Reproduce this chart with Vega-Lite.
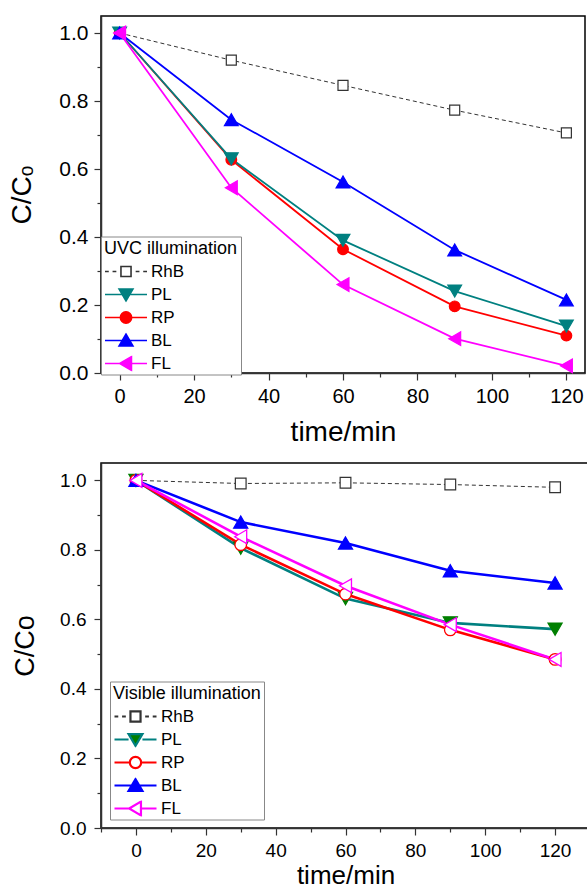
{
  "$schema": "https://vega.github.io/schema/vega-lite/v6.json",
  "padding": {"left": 8, "top": 15, "right": 0, "bottom": 0},
  "spacing": 15,
  "config": {
    "font": "Liberation Sans",
    "view": {"stroke": "black", "strokeWidth": 1.5},
    "axis": {"grid": false, "domainColor": "#333333", "domainWidth": 1.5, "tickColor": "#333333", "tickWidth": 1.2, "labelColor": "black", "titleColor": "black", "titleFontWeight": "normal", "labelFont": "Liberation Sans", "titleFont": "Liberation Sans", "labelOverlap": false, "labelFlush": false}
  },
  "datasets": {
    "uvc": [
      {"series": "RhB", "time": 0, "c": 1.0}, {"series": "RhB", "time": 30, "c": 0.92}, {"series": "RhB", "time": 60, "c": 0.846}, {"series": "RhB", "time": 90, "c": 0.773}, {"series": "RhB", "time": 120, "c": 0.706},
      {"series": "RP", "time": 0, "c": 1.0}, {"series": "RP", "time": 30, "c": 0.627}, {"series": "RP", "time": 60, "c": 0.364}, {"series": "RP", "time": 90, "c": 0.196}, {"series": "RP", "time": 120, "c": 0.11},
      {"series": "PL", "time": 0, "c": 1.0}, {"series": "PL", "time": 30, "c": 0.63}, {"series": "PL", "time": 60, "c": 0.39}, {"series": "PL", "time": 90, "c": 0.241}, {"series": "PL", "time": 120, "c": 0.138},
      {"series": "BL", "time": 0, "c": 1.0}, {"series": "BL", "time": 30, "c": 0.745}, {"series": "BL", "time": 60, "c": 0.562}, {"series": "BL", "time": 90, "c": 0.362}, {"series": "BL", "time": 120, "c": 0.215},
      {"series": "FL", "time": 0, "c": 1.0}, {"series": "FL", "time": 30, "c": 0.545}, {"series": "FL", "time": 60, "c": 0.26}, {"series": "FL", "time": 90, "c": 0.101}, {"series": "FL", "time": 120, "c": 0.021}
    ],
    "vis": [
      {"series": "RhB", "time": 0, "c": 1.0}, {"series": "RhB", "time": 30, "c": 0.991}, {"series": "RhB", "time": 60, "c": 0.993}, {"series": "RhB", "time": 90, "c": 0.988}, {"series": "RhB", "time": 120, "c": 0.98},
      {"series": "PL", "time": 0, "c": 1.0}, {"series": "PL", "time": 30, "c": 0.805}, {"series": "PL", "time": 60, "c": 0.66}, {"series": "PL", "time": 90, "c": 0.59}, {"series": "PL", "time": 120, "c": 0.572},
      {"series": "RP", "time": 0, "c": 1.0}, {"series": "RP", "time": 30, "c": 0.815}, {"series": "RP", "time": 60, "c": 0.673}, {"series": "RP", "time": 90, "c": 0.57}, {"series": "RP", "time": 120, "c": 0.485},
      {"series": "BL", "time": 0, "c": 1.0}, {"series": "BL", "time": 30, "c": 0.88}, {"series": "BL", "time": 60, "c": 0.82}, {"series": "BL", "time": 90, "c": 0.74}, {"series": "BL", "time": 120, "c": 0.705},
      {"series": "FL", "time": 0, "c": 1.0}, {"series": "FL", "time": 30, "c": 0.838}, {"series": "FL", "time": 60, "c": 0.697}, {"series": "FL", "time": 90, "c": 0.585}, {"series": "FL", "time": 120, "c": 0.485}
    ]
  },
  "resolve": {
    "scale": {"color": "independent"},
    "legend": {"color": "independent"}
  },
  "vconcat": [
    {
      "width": 484,
      "height": 357,
      "data": {"name": "uvc"},
      "encoding": {
        "x": {"field": "time", "type": "quantitative", "scale": {"domain": [-5, 125], "nice": false, "zero": false},
          "axis": {"orient": "bottom", "values": [0, 10, 20, 30, 40, 50, 60, 70, 80, 90, 100, 110, 120], "format": "d",
            "labelExpr": "datum.value % 20 === 0 ? datum.label : ''",
            "tickSize": {"condition": {"test": "datum.value % 20 === 0", "value": 7}, "value": 4},
            "labelFontSize": 20, "labelPadding": 6, "title": "time/min", "titleFontSize": 28, "titlePadding": 12}},
        "y": {"field": "c", "type": "quantitative", "scale": {"domain": [0, 1.05], "nice": false, "zero": false},
          "axis": {"orient": "left", "values": [0, 0.1, 0.2, 0.3, 0.4, 0.5, 0.6, 0.7, 0.8, 0.9, 1.0], "format": ".1f",
            "labelExpr": "round(datum.value * 10) % 2 === 0 ? datum.label : ''",
            "tickSize": {"condition": {"test": "round(datum.value * 10) % 2 === 0", "value": 7}, "value": 4},
            "labelFontSize": 21, "labelPadding": 6, "title": "C/Cₒ", "titleFontSize": 28, "titlePadding": 22}}
      },
      "layer": [
        {
          "transform": [{"filter": "datum.series === 'RhB'"}],
          "mark": {"type": "line", "color": "#333333", "strokeWidth": 1, "strokeDash": [4, 3]},
          "encoding": {}
        },
        {
          "transform": [{"filter": "datum.series !== 'RhB'"}],
          "mark": {"type": "line", "strokeWidth": 1.8},
          "encoding": {
            "color": {"field": "series", "type": "nominal",
              "scale": {"domain": ["RhB", "PL", "RP", "BL", "FL"], "range": ["#333333", "#008080", "#ff0000", "#0000ff", "#ff00ff"]},
              "legend": {
                "orient": "none", "legendX": 0, "legendY": 220.5,
                "title": "UVC illumination", "titleFontSize": 18, "titleFontWeight": "normal", "titleColor": "black", "titleFont": "Liberation Sans", "titlePadding": 6,
                "labelFontSize": 17, "labelColor": "black", "labelFont": "Liberation Sans", "labelOffset": 3,
                "padding": 3, "strokeColor": "#888888", "fillColor": "white",
                "symbolSize": 1764, "symbolStrokeWidth": 1.6, "clipHeight": 16, "rowPadding": 6,
                "encode": {
                  "symbols": {
                    "update": {
                      "shape": {"signal": "datum.value === 'RhB' ? 'M-1,0L-0.82,0M-0.64,0L-0.46,0M-0.24,-0.24L0.24,-0.24L0.24,0.24L-0.24,0.24ZM0.46,0L0.64,0M0.82,0L1,0' : datum.value === 'PL' ? 'M-1,0L1,0M-0.33,-0.26L0.33,-0.26L0,0.3Z' : datum.value === 'RP' ? 'M-1,0L1,0M-0.27,0A0.27,0.27,0,1,0,0.27,0A0.27,0.27,0,1,0,-0.27,0Z' : datum.value === 'BL' ? 'M-1,0L1,0M-0.33,0.26L0.33,0.26L0,-0.3Z' : 'M-1,0L1,0M-0.3,0L0.26,-0.33L0.26,0.33Z'"},
                      "fill": {"signal": "datum.value === 'RhB' ? '#ffffff' : datum.value === 'PL' ? '#008080' : datum.value === 'RP' ? '#ff0000' : datum.value === 'BL' ? '#0000ff' : '#ff00ff'"},
                      "opacity": {"value": 1}
                    }
                  }
                }
              }}
          }
        },
        {"transform": [{"filter": "datum.series === 'RhB'"}], "mark": {"type": "point", "shape": "square", "filled": true, "fill": "#ffffff", "stroke": "#333333", "strokeWidth": 1.2, "size": 100, "opacity": 1}},
        {"transform": [{"filter": "datum.series === 'RP'"}], "mark": {"type": "point", "shape": "circle", "filled": true, "fill": "#ff0000", "stroke": "#ff0000", "strokeWidth": 1.2, "size": 115, "opacity": 1}},
        {"transform": [{"filter": "datum.series === 'PL'"}], "mark": {"type": "point", "shape": "triangle-down", "filled": true, "fill": "#008080", "stroke": "#008080", "strokeWidth": 1.2, "size": 190, "opacity": 1}},
        {"transform": [{"filter": "datum.series === 'BL'"}], "mark": {"type": "point", "shape": "triangle-up", "filled": true, "fill": "#0000ff", "stroke": "#0000ff", "strokeWidth": 1.2, "size": 190, "opacity": 1}},
        {"transform": [{"filter": "datum.series === 'FL'"}], "mark": {"type": "point", "shape": "triangle-left", "filled": true, "fill": "#ff00ff", "stroke": "#ff00ff", "strokeWidth": 1.2, "size": 190, "opacity": 1}}
      ]
    },
    {
      "width": 489,
      "height": 365,
      "data": {"name": "vis"},
      "encoding": {
        "x": {"field": "time", "type": "quantitative", "scale": {"domain": [-10, 130], "nice": false, "zero": false},
          "axis": {"orient": "bottom", "values": [-10, 0, 10, 20, 30, 40, 50, 60, 70, 80, 90, 100, 110, 120, 130], "format": "d",
            "labelExpr": "datum.value % 20 === 0 ? datum.label : ''",
            "tickSize": {"condition": {"test": "datum.value % 20 === 0", "value": 7}, "value": 4},
            "labelFontSize": 19, "labelPadding": 6, "title": "time/min", "titleFontSize": 26, "titlePadding": 2}},
        "y": {"field": "c", "type": "quantitative", "scale": {"domain": [0, 1.05], "nice": false, "zero": false},
          "axis": {"orient": "left", "values": [0, 0.1, 0.2, 0.3, 0.4, 0.5, 0.6, 0.7, 0.8, 0.9, 1.0], "format": ".1f",
            "labelExpr": "round(datum.value * 10) % 2 === 0 ? datum.label : ''",
            "tickSize": {"condition": {"test": "round(datum.value * 10) % 2 === 0", "value": 7}, "value": 4},
            "labelFontSize": 19, "labelPadding": 8, "title": "C/Co", "titleFontSize": 27, "titlePadding": 20}}
      },
      "layer": [
        {
          "transform": [{"filter": "datum.series === 'RhB'"}],
          "mark": {"type": "line", "color": "#333333", "strokeWidth": 1, "strokeDash": [4, 3]},
          "encoding": {}
        },
        {
          "transform": [{"filter": "datum.series !== 'RhB'"}],
          "mark": {"type": "line", "strokeWidth": 2.6},
          "encoding": {
            "color": {"field": "series", "type": "nominal",
              "scale": {"domain": ["RhB", "PL", "RP", "BL", "FL"], "range": ["#333333", "#008080", "#ff0000", "#0000ff", "#ff00ff"]},
              "legend": {
                "orient": "none", "legendX": 9, "legendY": 218.5,
                "title": "Visible illumination", "titleFontSize": 18, "titleFontWeight": "normal", "titleColor": "black", "titleFont": "Liberation Sans", "titlePadding": 6,
                "labelFontSize": 17, "labelColor": "black", "labelFont": "Liberation Sans", "labelOffset": 3,
                "padding": 3, "strokeColor": "#888888", "fillColor": "white",
                "symbolSize": 1764, "symbolStrokeWidth": 2.2, "clipHeight": 16, "rowPadding": 6,
                "encode": {
                  "symbols": {
                    "update": {
                      "shape": {"signal": "datum.value === 'RhB' ? 'M-1,0L-0.82,0M-0.64,0L-0.46,0M-0.24,-0.24L0.24,-0.24L0.24,0.24L-0.24,0.24ZM0.46,0L0.64,0M0.82,0L1,0' : datum.value === 'PL' ? 'M-1,0L-0.33,0M0.33,0L1,0M-0.33,-0.26L0.33,-0.26L0,0.3Z' : datum.value === 'RP' ? 'M-1,0L-0.27,0M0.27,0L1,0M-0.27,0A0.27,0.27,0,1,0,0.27,0A0.27,0.27,0,1,0,-0.27,0Z' : datum.value === 'BL' ? 'M-1,0L1,0M-0.33,0.26L0.33,0.26L0,-0.3Z' : 'M-1,0L-0.3,0M0.26,0L1,0M-0.3,0L0.26,-0.33L0.26,0.33Z'"},
                      "fill": {"signal": "datum.value === 'RhB' ? '#ffffff' : datum.value === 'PL' ? '#007f00' : datum.value === 'RP' ? '#ffffff' : datum.value === 'BL' ? '#0000ff' : '#ffffff'"},
                      "opacity": {"value": 1}
                    }
                  }
                }
              }}
          }
        },
        {"transform": [{"filter": "datum.series === 'RhB'"}], "mark": {"type": "point", "shape": "square", "filled": true, "fill": "#ffffff", "stroke": "#333333", "strokeWidth": 1.2, "size": 115, "opacity": 1}},
        {"transform": [{"filter": "datum.series === 'PL'"}], "mark": {"type": "point", "shape": "triangle-down", "filled": true, "fill": "#007f00", "stroke": "#007f00", "strokeWidth": 1.2, "size": 200, "opacity": 1}},
        {"transform": [{"filter": "datum.series === 'RP'"}], "mark": {"type": "point", "shape": "circle", "filled": true, "fill": "#ffffff", "stroke": "#ff0000", "strokeWidth": 1.3, "size": 135, "opacity": 1}},
        {"transform": [{"filter": "datum.series === 'BL'"}], "mark": {"type": "point", "shape": "triangle-up", "filled": true, "fill": "#0000ff", "stroke": "#0000ff", "strokeWidth": 1.2, "size": 200, "opacity": 1}},
        {"transform": [{"filter": "datum.series === 'FL'"}], "mark": {"type": "point", "shape": "triangle-left", "filled": true, "fill": "#ffffff", "stroke": "#ff00ff", "strokeWidth": 1.3, "size": 190, "opacity": 1}}
      ]
    }
  ]
}
